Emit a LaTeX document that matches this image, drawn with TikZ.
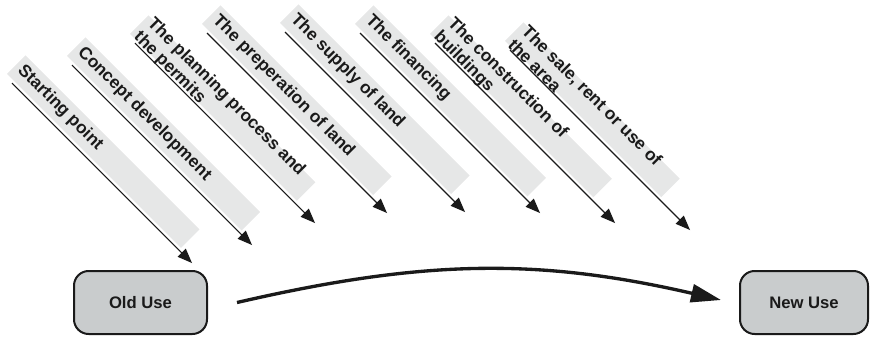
\documentclass[tikz,border=0pt]{standalone}
\usepackage{fontspec}
\setmainfont{Liberation Sans}
\usetikzlibrary{arrows.meta,calc}
\definecolor{bandgray}{HTML}{E6E7E7}
\definecolor{boxgray}{HTML}{C9CCCD}
\definecolor{ink}{HTML}{1A1A1A}
\tikzset{
  band/.style={fill=bandgray},
  lbl/.style={font=\bfseries\fontsize{13}{14.5}\selectfont, text=ink, inner sep=0pt, align=left, rotate=-45, anchor=west},
  flow/.style={draw=ink, line width=0.8pt, -{Triangle[length=11pt,width=8.5pt]}},
  usebox/.style={draw=ink, line width=1.5pt, fill=boxgray, rounded corners=11pt, minimum width=99.75pt, minimum height=47.25pt, font=\bfseries\fontsize{12.5}{14}\selectfont, text=ink},
  bigflow/.style={draw=ink, line width=2.5pt, -{Triangle[length=22.5pt,width=13.5pt]}}
}
\begin{document}
\begin{tikzpicture}[x=0.75pt,y=0.75pt]
\useasboundingbox (0,0) rectangle (871,-337);
\foreach \i/\bx/\by/\be/\bt in {
  1/12/83/236/{Starting point},
  2/72/65/237/{Concept development},
  3/135/43/226/{The planning process and\\the permits},
  4/207/33/232/{The preperation of land},
  5/285/32/232/{The supply of land},
  6/360/33/234/{The financing},
  7/435/43/221/{The construction of\\buildings},
  8/510/50/211/{The sale, rent or use of\\the area}}{
  \begin{scope}[shift={(\bx,-\by)}, rotate=-45]
    \fill[band] (-10,3) rectangle (\be,29);
    \node[lbl] (l\i) at (-5,16.5) {\bt};
    \coordinate (s\i) at (0,0);
    \coordinate (t\i) at (254.6,0);
    \draw[flow] (s\i) -- (t\i);
  \end{scope}
}
\node[usebox] (old) at (140.5,-302.5) {Old Use};
\node[usebox, minimum width=96pt] (new) at (804,-302.5) {New Use};
\draw[bigflow] ($(old.east)+(29,0)$) to[out=13,in=167] ($(new.west)+(-18,2.5)$);
\end{tikzpicture}
\end{document}
